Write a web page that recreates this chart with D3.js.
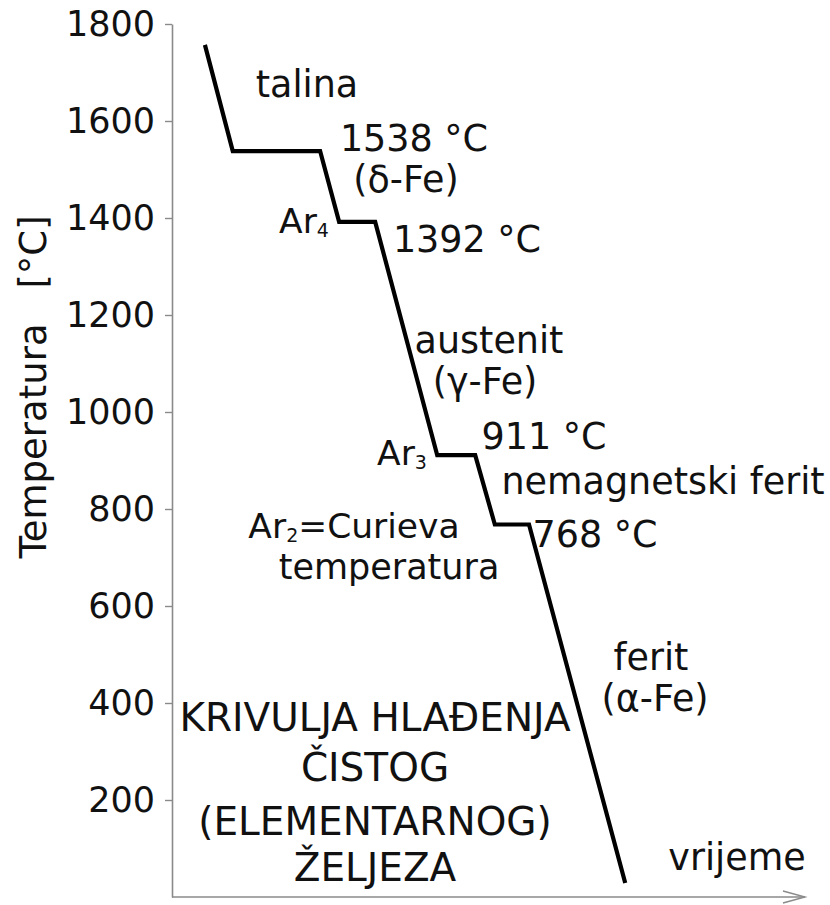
<!DOCTYPE html>
<html><head><meta charset="utf-8">
<script src="https://cdn.jsdelivr.net/npm/d3@7"></script>
<style>
html,body{margin:0;padding:0;background:#fff;}
svg{display:block;}
text{font-family:"DejaVu Sans",Verdana,sans-serif;fill:#111;}
</style></head>
<body>
<svg id="chart" width="830" height="905"></svg>
<script>
// cooling curve of pure iron: time (arbitrary units) vs temperature (°C)
const times = [5.2, 9.6, 23.4, 26.4, 32.1, 41.9, 47.9, 51.0, 56.4, 71.6];
const temps = [1757, 1538, 1538, 1392, 1392, 911, 911, 768, 768, 29];
const yTicks = [200, 400, 600, 800, 1000, 1200, 1400, 1600, 1800];
const labels = [
  {t: "talina", x: 307, y: 97},
  {t: "1538 °C", x: 414, y: 151},
  {t: "(δ-Fe)", x: 406, y: 192},
  {t: "1392 °C", x: 467, y: 252},
  {t: "austenit", x: 489, y: 353},
  {t: "(γ-Fe)", x: 485, y: 394},
  {t: "911 °C", x: 544, y: 449},
  {t: "nemagnetski ferit", x: 663, y: 494},
  {t: "768 °C", x: 595, y: 547},
  {t: "ferit", x: 651, y: 670},
  {t: "(α-Fe)", x: 655, y: 711},
  {t: "vrijeme", x: 737, y: 870}
];
const curieLine2 = [{t: "temperatura", x: 389, y: 579}];
const titleLines = [
  {t: "KRIVULJA HLAĐENJA", x: 375, y: 731},
  {t: "ČISTOG", x: 375, y: 781},
  {t: "(ELEMENTARNOG)", x: 375, y: 835},
  {t: "ŽELJEZA", x: 375, y: 881}
];
const subLabels = [
  {base: "Ar", sub: "4", rest: "", x: 304, y: 233},
  {base: "Ar", sub: "3", rest: "", x: 402, y: 465},
  {base: "Ar", sub: "2", rest: "=Curieva", x: 354, y: 538}
];

const svg = d3.select("#chart");
const x = d3.scaleLinear().domain([0, 100]).range([172, 805]);
const y = d3.scaleLinear().domain([0, 1800]).range([897, 24]);
const FONT = '"DejaVu Sans",Verdana,sans-serif';

// y axis
const yAxis = d3.axisLeft(y).tickValues(yTicks).tickFormat(d3.format("d"))
  .tickSize(7).tickSizeOuter(0).tickPadding(10);
const gy = svg.append("g").attr("transform", `translate(${x(0)},0)`).call(yAxis);
gy.select(".domain").attr("stroke", "#8a8a8a").attr("stroke-width", 1.6);
gy.selectAll(".tick line").attr("stroke", "#8a8a8a").attr("stroke-width", 1.4);
gy.selectAll(".tick text").style("font-size", "35px").style("font-family", FONT).attr("fill", "#111");

// x axis with open arrow
const gx = svg.append("g");
gx.append("line").attr("x1", x(0)).attr("x2", x(100)).attr("y1", y(0)).attr("y2", y(0))
  .attr("stroke", "#8a8a8a").attr("stroke-width", 1.6);
gx.append("path")
  .attr("d", `M${x(100) - 22},${y(0) - 6}L${x(100)},${y(0)}L${x(100) - 22},${y(0) + 6}`)
  .attr("fill", "none").attr("stroke", "#8a8a8a").attr("stroke-width", 1.4);

// y axis title
const yt = svg.append("text")
  .attr("transform", "translate(46,0) rotate(-90)")
  .style("font-size", "37px").attr("text-anchor", "middle");
yt.append("tspan").attr("x", -441).text("Temperatura");
yt.append("tspan").attr("x", -252).text("[°C]");

// curve
const line = d3.line().x((d, i) => x(times[i])).y(d => y(d));
svg.append("path").datum(temps).attr("d", line)
  .attr("fill", "none").attr("stroke", "#000").attr("stroke-width", 4.2)
  .attr("stroke-linejoin", "miter");

// labels
svg.selectAll("text.lab").data(labels).enter().append("text").attr("class", "lab")
  .attr("x", d => d.x).attr("y", d => d.y).attr("text-anchor", "middle")
  .style("font-size", "36.5px").text(d => d.t);

svg.selectAll("text.lab2").data(curieLine2).enter().append("text").attr("class", "lab2")
  .attr("x", d => d.x).attr("y", d => d.y).attr("text-anchor", "middle")
  .style("font-size", "35px").text(d => d.t);

svg.selectAll("text.ttl").data(titleLines).enter().append("text").attr("class", "ttl")
  .attr("x", d => d.x).attr("y", d => d.y).attr("text-anchor", "middle")
  .style("font-size", "39px").text(d => d.t);

const sl = svg.selectAll("text.sub").data(subLabels).enter().append("text").attr("class", "sub")
  .attr("x", d => d.x).attr("y", d => d.y).attr("text-anchor", "middle")
  .style("font-size", "34.5px");
sl.append("tspan").text(d => d.base);
sl.append("tspan").style("font-size", "19px").attr("dy", 4).text(d => d.sub);
sl.append("tspan").attr("dy", -4).text(d => d.rest);
</script>
</body></html>
